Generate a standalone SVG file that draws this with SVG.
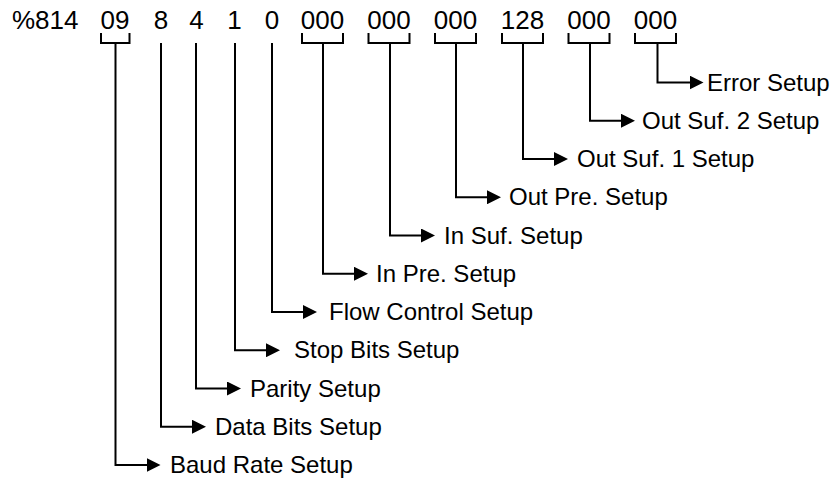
<svg xmlns="http://www.w3.org/2000/svg" width="831" height="483" viewBox="0 0 831 483">
<style>
.code{font-family:"Liberation Sans",Arial,sans-serif;font-size:26px;fill:#000}
.lbl{font-family:"Liberation Sans",Arial,sans-serif;font-size:24px;fill:#000}
.ln{fill:none;stroke:#000;stroke-width:2}
</style>
<defs>
<marker id="ah" markerUnits="userSpaceOnUse" markerWidth="14" markerHeight="14" viewBox="0 0 14 14" refX="8" refY="7" orient="auto">
<path d="M0,0 L14,7 L0,14 z" fill="#000"/>
</marker>
</defs>
<rect width="831" height="483" fill="#fff"/>
<g id="code">
<text class="code" x="12" y="29">%814</text>
<text class="code" x="115" y="29" text-anchor="middle">09</text>
<text class="code" x="161" y="29" text-anchor="middle">8</text>
<text class="code" x="196.5" y="29" text-anchor="middle">4</text>
<text class="code" x="234.5" y="29" text-anchor="middle">1</text>
<text class="code" x="272" y="29" text-anchor="middle">0</text>
<text class="code" x="322.5" y="29" text-anchor="middle">000</text>
<text class="code" x="389" y="29" text-anchor="middle">000</text>
<text class="code" x="455.5" y="29" text-anchor="middle">000</text>
<text class="code" x="522.5" y="29" text-anchor="middle">128</text>
<text class="code" x="589" y="29" text-anchor="middle">000</text>
<text class="code" x="655.5" y="29" text-anchor="middle">000</text>
</g>
<g id="brackets" class="ln">
<path d="M101,33 V43 H129.5 V33"/>
<path d="M302,33 V43 H343 V33"/>
<path d="M368.5,33 V43 H409.5 V33"/>
<path d="M435,33 V43 H476 V33"/>
<path d="M502,33 V43 H543 V33"/>
<path d="M568.5,33 V43 H609.5 V33"/>
<path d="M635,33 V43 H676 V33"/>
</g>
<g id="connectors" class="ln" marker-end="url(#ah)">
<path d="M657.5,43 V82.5 H697.5"/>
<path d="M590,43 V120.75 H629"/>
<path d="M523,43 V159 H562"/>
<path d="M456,43 V197.25 H495"/>
<path d="M390,43 V235.5 H429"/>
<path d="M323,43 V273.75 H362"/>
<path d="M272,43 V312 H311"/>
<path d="M235,43 V350.25 H274"/>
<path d="M196,43 V388.5 H235"/>
<path d="M161,43 V426.75 H200"/>
<path d="M115.5,43 V465 H154.5"/>
</g>
<g id="n-error"><text class="lbl" x="707" y="90.5">Error Setup</text></g>
<g id="n-outsuf2"><text class="lbl" x="642" y="128.75">Out Suf. 2 Setup</text></g>
<g id="n-outsuf1"><text class="lbl" x="577" y="167">Out Suf. 1 Setup</text></g>
<g id="n-outpre"><text class="lbl" x="509" y="205.25">Out Pre. Setup</text></g>
<g id="n-insuf"><text class="lbl" x="444" y="243.5">In Suf. Setup</text></g>
<g id="n-inpre"><text class="lbl" x="376" y="281.75">In Pre. Setup</text></g>
<g id="n-flow"><text class="lbl" x="329" y="320">Flow Control Setup</text></g>
<g id="n-stop"><text class="lbl" x="294" y="358.25">Stop Bits Setup</text></g>
<g id="n-parity"><text class="lbl" x="250" y="396.5">Parity Setup</text></g>
<g id="n-data"><text class="lbl" x="215" y="434.75">Data Bits Setup</text></g>
<g id="n-baud"><text class="lbl" x="170" y="473">Baud Rate Setup</text></g>
</svg>
